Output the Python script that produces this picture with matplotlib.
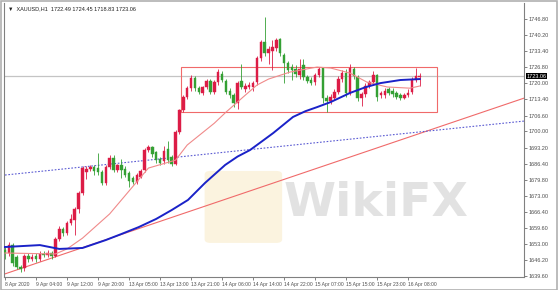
import matplotlib.pyplot as plt
from matplotlib.patches import Rectangle, FancyBboxPatch

# XAUUSD H1 candles (price values)
opens = [1650.5, 1649.3, 1652.6, 1647.6, 1643.4, 1643.0, 1648.0, 1646.8, 1648.0, 1647.0,
         1649.0, 1648.5, 1649.3, 1648.0, 1655.1, 1659.3, 1657.6, 1661.8, 1663.0, 1667.6,
         1674.3, 1683.0, 1684.3, 1685.0, 1684.7, 1683.0, 1678.5, 1685.1, 1689.0, 1684.0,
         1686.0, 1684.5, 1682.5, 1680.5, 1679.0, 1681.0, 1683.9, 1692.2, 1693.5, 1691.5,
         1688.5, 1687.5, 1692.5, 1689.5, 1686.5, 1699.7, 1708.9, 1714.3, 1718.0, 1722.2,
         1718.0, 1716.0, 1718.4, 1721.0, 1716.5, 1720.5, 1724.0, 1721.0, 1717.0, 1715.1,
         1711.8, 1721.0, 1717.5, 1718.5, 1718.5, 1720.5, 1730.5, 1737.2, 1732.6, 1733.5,
         1734.7, 1738.5, 1731.8, 1728.5, 1727.0, 1726.0, 1723.5, 1727.6, 1722.5, 1721.5,
         1720.5, 1723.5, 1726.4, 1713.9, 1712.5, 1714.0, 1716.4, 1722.0, 1724.5, 1716.0,
         1726.0, 1722.5, 1714.0, 1715.5, 1719.0, 1720.5, 1723.5, 1715.0, 1715.0, 1717.5,
         1717.0, 1716.0, 1715.0, 1714.0, 1715.0, 1716.4, 1721.4, 1722.49]
highs = [1652.0, 1654.0, 1653.5, 1648.5, 1644.5, 1649.0, 1649.5, 1649.0, 1649.5, 1650.0,
         1650.0, 1650.5, 1650.0, 1655.8, 1660.5, 1660.0, 1662.5, 1665.5, 1668.5, 1675.0,
         1685.5, 1685.5, 1686.0, 1686.0, 1691.0, 1684.0, 1686.0, 1690.0, 1690.0, 1686.5,
         1688.5, 1685.5, 1683.5, 1681.5, 1682.5, 1684.5, 1693.0, 1694.5, 1694.0, 1692.0,
         1689.5, 1694.0, 1696.0, 1690.0, 1700.5, 1709.5, 1715.0, 1719.0, 1723.5, 1723.0,
         1719.0, 1719.0, 1722.0, 1722.0, 1721.5, 1726.0, 1725.0, 1722.0, 1718.0, 1716.0,
         1721.0, 1728.0, 1720.0, 1720.5, 1721.0, 1731.5, 1738.0, 1747.6, 1735.5, 1738.0,
         1739.0, 1739.0, 1732.5, 1729.5, 1728.0, 1727.5, 1730.0, 1730.0, 1723.5, 1722.5,
         1724.5, 1727.0, 1727.0, 1715.0, 1715.5, 1717.5, 1723.0, 1725.5, 1726.0, 1728.0,
         1727.0, 1723.5, 1716.5, 1720.0, 1721.5, 1725.0, 1724.0, 1717.0, 1718.0, 1718.5,
         1718.0, 1717.0, 1716.0, 1716.0, 1717.5, 1722.5, 1726.5, 1724.45]
lows = [1647.0, 1648.0, 1644.0, 1642.5, 1641.5, 1642.0, 1645.5, 1646.0, 1645.5, 1646.0,
        1647.5, 1647.5, 1647.0, 1647.5, 1654.5, 1656.5, 1656.8, 1661.0, 1657.0, 1666.0,
        1673.5, 1680.0, 1683.5, 1682.0, 1682.0, 1677.5, 1677.5, 1684.5, 1683.0, 1683.0,
        1680.5, 1681.0, 1677.0, 1678.0, 1678.0, 1680.5, 1683.0, 1691.5, 1689.5, 1687.0,
        1686.0, 1686.5, 1687.0, 1685.5, 1686.0, 1699.0, 1708.0, 1713.5, 1717.0, 1717.0,
        1715.5, 1715.0, 1717.5, 1715.5, 1715.5, 1719.5, 1720.5, 1715.5, 1714.0, 1710.1,
        1709.5, 1717.5, 1716.5, 1717.5, 1717.0, 1719.5, 1729.5, 1731.5, 1728.0, 1725.5,
        1733.5, 1731.5, 1720.0, 1724.5, 1721.5, 1722.5, 1722.0, 1721.5, 1720.0, 1719.5,
        1719.5, 1722.5, 1711.8, 1708.0, 1711.5, 1713.0, 1715.5, 1720.5, 1714.5, 1715.0,
        1722.0, 1712.5, 1710.5, 1714.5, 1718.0, 1719.5, 1712.5, 1714.0, 1714.0, 1715.0,
        1714.5, 1713.5, 1713.0, 1713.5, 1714.5, 1715.5, 1720.5, 1718.83]
closes = [1649.3, 1652.6, 1645.1, 1643.4, 1642.8, 1648.0, 1646.8, 1647.6, 1646.8, 1649.0,
          1648.5, 1649.5, 1648.0, 1655.1, 1659.3, 1657.6, 1661.8, 1663.4, 1667.6, 1674.3,
          1684.7, 1684.3, 1685.0, 1683.3, 1683.0, 1678.5, 1685.1, 1689.0, 1684.0, 1686.0,
          1684.0, 1682.0, 1679.5, 1679.0, 1681.8, 1683.5, 1692.2, 1693.5, 1690.5, 1688.0,
          1687.0, 1692.0, 1688.0, 1686.5, 1699.7, 1708.9, 1714.3, 1718.0, 1722.2, 1718.0,
          1716.4, 1718.4, 1721.0, 1716.5, 1720.5, 1724.7, 1721.5, 1716.4, 1715.1, 1711.8,
          1720.1, 1718.5, 1719.0, 1719.5, 1720.0, 1730.5, 1737.2, 1732.6, 1734.2, 1735.0,
          1738.0, 1732.6, 1728.5, 1725.5, 1725.5, 1724.0, 1726.0, 1722.5, 1721.0, 1720.0,
          1723.5, 1726.0, 1713.9, 1712.5, 1714.5, 1716.5, 1722.0, 1724.5, 1716.0, 1726.5,
          1723.0, 1714.0, 1715.5, 1719.0, 1720.5, 1723.5, 1714.5, 1715.8, 1717.0, 1716.0,
          1715.5, 1714.5, 1714.0, 1715.2, 1716.0, 1721.4, 1723.0, 1723.06]

# moving averages, sampled along the chart (bar index, price)
ma_fast_idx = [0, 13, 16, 20, 27, 37, 44, 47, 54, 57, 62, 65, 68, 73.5, 80.5, 84, 89, 93.4, 98.6, 104.5, 107]
ma_fast_val = [1649.3, 1648.9, 1651.0, 1655.5, 1665.6, 1684.7, 1688.0, 1694.3, 1703.4, 1708.0, 1715.1,
               1719.3, 1721.8, 1724.7, 1726.8, 1726.4, 1724.3, 1720.5, 1718.5, 1718.0, 1718.9]
ma_slow_idx = [0, 9, 14, 20, 26, 30, 34.5, 39, 43, 47.2, 51.6, 56.8, 60, 63.2, 66, 69.2, 74.3,
               77.5, 80.5, 84, 89, 93, 96.8, 102, 107]
ma_slow_val = [1651.8, 1652.6, 1651.0, 1651.4, 1654.7, 1657.2, 1660.1, 1663.5, 1667.2, 1671.4,
               1678.5, 1686.0, 1689.5, 1692.2, 1695.5, 1699.3, 1706.0, 1708.4, 1710.1, 1712.2,
               1716.0, 1718.4, 1720.1, 1721.4, 1721.8]

# drawn objects
trend_x, trend_y = [0, 134], [1640.6, 1713.9]
dotted_x, dotted_y = [0, 134], [1681.8, 1704.3]
box_x, box_y = [45.4, 111.5], [1708.0, 1726.8]
last_price = 1723.06

xtick_pos = list(range(0, 105, 8))
xtick_labels = ['8 Apr 2020', '9 Apr 04:00', '9 Apr 12:00', '9 Apr 20:00', '13 Apr 05:00',
                '13 Apr 13:00', '13 Apr 21:00', '14 Apr 06:00', '14 Apr 14:00', '14 Apr 22:00',
                '15 Apr 07:00', '15 Apr 15:00', '15 Apr 23:00', '16 Apr 08:00']
ytick_vals = [1746.80, 1740.20, 1733.40, 1726.80, 1720.00, 1713.40, 1706.60, 1700.00, 1693.20,
              1686.40, 1679.80, 1673.00, 1666.40, 1659.60, 1653.00, 1646.20, 1639.60]

plt.rcParams['font.family'] = ['Liberation Sans', 'DejaVu Sans']
UP, DOWN = '#dc1c46', '#34a034'

fig = plt.figure(figsize=(5.58, 2.9), dpi=100)
ax = fig.add_axes([4 / 558, 13 / 290, 520 / 558, 274 / 290])
fig.patches.append(Rectangle((0.001, 0.001), 0.997, 0.997, transform=fig.transFigure,
                             fill=False, edgecolor='#b0b0b0', lw=1.2))

# watermark
ax.add_patch(FancyBboxPatch((53, 1655), 17, 27, boxstyle='round,pad=1.5',
                            facecolor='#f7e6b8', edgecolor='none', alpha=0.45, zorder=0))
ax.text(72, 1670, 'WikiFX', fontsize=34, fontweight='bold', color='#b8b8b8', alpha=0.4,
        family='DejaVu Sans', va='center', ha='left', zorder=0)

ax.axhline(last_price, color='#c4c4c4', lw=0.9, zorder=1)
ax.plot(trend_x, trend_y, color='#f06a6a', lw=0.8, zorder=2)
ax.plot(dotted_x, dotted_y, color='#5a5ad2', lw=0.8, ls=(0, (1.5, 1.5)), zorder=2)
ax.add_patch(Rectangle((box_x[0], box_y[0]), box_x[1] - box_x[0], box_y[1] - box_y[0],
                       fill=False, edgecolor='#f06a6a', lw=0.8, zorder=2))

for i in range(len(closes)):
    c = UP if closes[i] >= opens[i] else DOWN
    ax.vlines(i, lows[i], highs[i], color=c, lw=0.6, zorder=3)
    lo, hi = min(opens[i], closes[i]), max(opens[i], closes[i])
    ax.add_patch(Rectangle((i - 0.33, lo), 0.66, max(hi - lo, 0.3), facecolor=c,
                           edgecolor=c, lw=0.3, zorder=4))

ax.plot(ma_fast_idx, ma_fast_val, color='#f08a8a', lw=0.8, zorder=5)
ax.plot(ma_slow_idx, ma_slow_val, color='#1a22c8', lw=1.4, zorder=5)

ax.set_xlim(-0.26, 133.9)
ax.set_ylim(1639.3, 1753.5)
ax.spines['top'].set_visible(False)
for s in ['left', 'right', 'bottom']:
    ax.spines[s].set_color('#808080')
    ax.spines[s].set_linewidth(0.8)

ax.yaxis.tick_right()
ax.set_yticks(ytick_vals)
ax.set_yticklabels(['%.2f' % v for v in ytick_vals])
ax.tick_params(axis='y', labelsize=4, length=2, width=0.5, colors='#505050', pad=1.5)
ax.set_xticks(xtick_pos)
ax.set_xticklabels(xtick_labels, ha='left')
ax.tick_params(axis='x', labelsize=3.6, length=2, width=0.5, colors='#505050', pad=1.5)

ax.text(1.005, (last_price - 1639.3) / (1753.5 - 1639.3), '%.2f' % last_price,
        transform=ax.transAxes, fontsize=4, color='white', va='center', ha='left',
        bbox=dict(boxstyle='square,pad=0.15', facecolor='black', edgecolor='none'), zorder=10)

fig.text(8 / 558, 1 - 9 / 290, '\u25bc  XAUUSD,H1  1722.49 1724.45 1718.83 1723.06',
         fontsize=4, color='#202020', va='center', family=['Liberation Sans', 'DejaVu Sans'])

plt.savefig('out.png', dpi=100)
